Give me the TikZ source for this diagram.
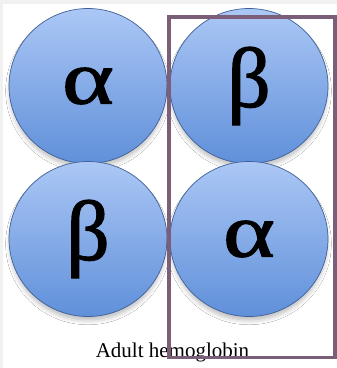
\documentclass[tikz,border=0pt]{standalone}
\usepackage{graphicx}
\usepackage{fontspec}
\setmainfont{Liberation Serif}
\newfontfamily\greekglyph[FakeBold=1.4]{Liberation Serif}
\usetikzlibrary{shapes.geometric,shadows.blur}
\definecolor{bggrey}{HTML}{F1F1F1}
\definecolor{globetop}{HTML}{ABC7F5}
\definecolor{globebot}{HTML}{6090DA}
\definecolor{globeline}{HTML}{3F6098}
\definecolor{framecol}{HTML}{7B5E78}
\newcommand{\widealpha}{\scalebox{1.3}[1]{α}}
\newcommand{\tallbeta}{\scalebox{1.12}{β}}
\tikzset{
  globe/.style={ellipse, draw=globeline, line width=0.7pt,
    top color=globetop, bottom color=globebot,
    minimum width=158pt, minimum height=155pt, inner sep=0pt,
    blur shadow={shadow xshift=0pt, shadow yshift=-5pt, shadow scale=0.98, shadow blur steps=8, shadow blur radius=5pt, shadow opacity=30},
    font=\greekglyph\fontsize{76}{80}\selectfont},
  caption/.style={font=\fontsize{21}{25}\selectfont, anchor=base, inner sep=0pt},
  frame/.style={draw=framecol, line width=3.5pt}
}
\begin{document}
\begin{tikzpicture}[x=1pt,y=-1pt]
\useasboundingbox (0,0) rectangle (337,368);
\fill[bggrey] (0,0) rectangle (337,368);
\fill[white] (3,4) rectangle (337,368);
\node[globe] (a1) at (88,86) {\widealpha};
\node[globe] (b1) at (249,86) {\tallbeta};
\node[globe] (b2) at (88,239) {\tallbeta};
\node[globe] (a2) at (249,239) {\widealpha};
\node[caption] (cap) at (172.5,357) {Adult hemoglobin};
\draw[frame] (169,17) rectangle (335,357.5);
\end{tikzpicture}
\end{document}
